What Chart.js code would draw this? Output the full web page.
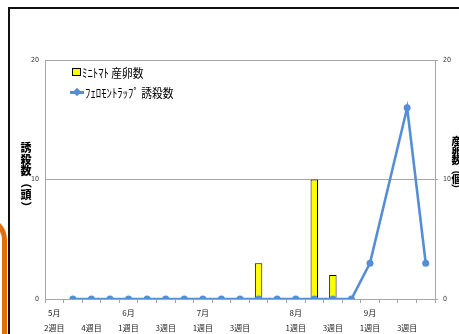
<!DOCTYPE html>
<html>
<head>
<meta charset="utf-8">
<script src="https://cdn.jsdelivr.net/npm/chart.js@4"></script>
<style>
  html, body { margin: 0; padding: 0; background: #fff; }
  #wrap { position: relative; width: 459px; height: 334px; overflow: hidden; }
  #chart { position: absolute; left: 0; top: 0; }
  .frame { position: absolute; left: 8px; top: 7px; width: 500px; height: 400px;
    border-left: 2px solid #111; border-top: 2px solid #111; pointer-events: none; }
  .blob { position: absolute; left: -60px; top: 216px; width: 67px; height: 200px; box-sizing: border-box;
    border: 5px solid #E46C0A; border-radius: 0 24px 0 0; }
  .ytitle { position: absolute; font-family: "Noto Sans CJK JP", sans-serif; font-weight: 900; color: #000;
    text-align: center; }
  .ytitle span { display: block; }
  .ytitle .rot { transform: rotate(90deg); }
  .legend { position: absolute; left: 70px; top: 62px; font-family: "Noto Sans CJK JP", sans-serif;
    font-size: 12.5px; color: #000; }
  .legend div { height: 20px; display: flex; align-items: center; white-space: nowrap; }
  .legend .tx { display: inline-block; transform: scaleX(0.86); transform-origin: left center; }
  .sw { display: inline-block; width: 7px; height: 6px; background: #FFFF00; border: 1px solid #000; margin: 0 1px 0 2px; }
  .ln { display: inline-block; position: relative; width: 14px; height: 3px; background: #558ED5; margin-right: 1px; }
  .ln::after { content: ""; position: absolute; left: 4px; top: -2px; width: 6px; height: 6px; background: #558ED5;
    transform: rotate(45deg); }
</style>
</head>
<body>
<div id="wrap">
  <canvas id="chart" width="459" height="334"></canvas>
  <div class="blob"></div>
  <div class="frame"></div>
  <div class="ytitle" style="left:20px; top:142px; width:12px; font-size:11px; line-height:11.7px;"><span>誘</span><span>殺</span><span>数</span><span class="rot">（</span><span>頭</span><span class="rot">）</span></div>
  <div class="ytitle" style="left:451px; top:136px; width:11px; font-size:10px; line-height:9.6px;"><span>産</span><span>卵</span><span>数</span><span class="rot">（</span><span>個</span><span class="rot">）</span></div>
  <div class="legend">
    <div><span class="sw"></span><span class="tx">ﾐﾆﾄﾏﾄ 産卵数</span></div>
    <div><span class="ln"></span><span class="tx">ﾌｪﾛﾓﾝﾄﾗｯﾌﾟ 誘殺数</span></div>
  </div>
</div>
<script>
// category labels (month line / week line), blanks where Excel skipped them
const months = ["5月", "", "", "", "6月", "", "", "", "7月", "", "", "", "", "8月", "", "", "", "9月", "", "", ""];
const weeks = ["2週目", "", "4週目", "", "1週目", "", "3週目", "", "1週目", "", "3週目", "", "", "1週目", "", "3週目", "", "1週目", "", "3週目", ""];

// ミニトマト 産卵数 (bars)
const eggCounts = [null, null, null, null, null, null, null, null, null, null, null, 3, null, null, 10, 2, null, null, null, null, null];
// フェロモントラップ 誘殺数 (line)
const trapCounts = [null, 0, 0, 0, 0, 0, 0, 0, 0, 0, 0, 0, 0, 0, 0, 0, 0, 3, null, 16, 3];

const yTicks = [0, 10, 20];

const labels = months.map((m, i) => [m, weeks[i]]);

const tickFont = { family: "'Liberation Sans Narrow', 'DejaVu Sans Condensed', sans-serif", size: 7 };
const gridColor = "#a6a6a6";

const ctx = document.getElementById("chart").getContext("2d");

new Chart(ctx, {
  data: {
    labels,
    datasets: [
      {
        type: "line",
        label: "ﾌｪﾛﾓﾝﾄﾗｯﾌﾟ 誘殺数",
        data: trapCounts,
        yAxisID: "y",
        borderColor: "#558ED5",
        backgroundColor: "#558ED5",
        borderWidth: 2.6,
        pointRadius: 3.5,
        pointBorderWidth: 0,
        spanGaps: true,
        tension: 0,
        order: 0
      },
      {
        type: "bar",
        label: "ﾐﾆﾄﾏﾄ 産卵数",
        data: eggCounts,
        yAxisID: "y2",
        backgroundColor: "#FFFF00",
        borderColor: "#000",
        borderWidth: 1,
        barPercentage: 0.4,
        categoryPercentage: 1,
        order: 1
      }
    ]
  },
  options: {
    responsive: false,
    animation: false,
    layout: { padding: { top: 60, left: 0, right: 0, bottom: 0 } },
    plugins: { legend: { display: false }, tooltip: { enabled: false } },
    scales: {
      x: {
        offset: true,
        grid: { offset: true, drawOnChartArea: false, tickLength: 4, color: gridColor },
        border: { color: gridColor },
        ticks: {
          autoSkip: false,
          maxRotation: 0,
          padding: 3,
          color: "#222",
          font: { family: "'Noto Sans CJK JP', sans-serif", size: 8, lineHeight: 1.8 }
        },
        afterFit: s => { s.height = 35; }
      },
      y: {
        position: "left",
        min: 0,
        max: 20,
        afterBuildTicks: s => { s.ticks = yTicks.map(v => ({ value: v })); },
        grid: { color: gridColor, drawTicks: false },
        border: { color: gridColor },
        ticks: { padding: 6, color: "#333", font: tickFont },
        afterFit: s => { s.width = 45; }
      },
      y2: {
        position: "right",
        min: 0,
        max: 20,
        afterBuildTicks: s => { s.ticks = yTicks.map(v => ({ value: v })); },
        grid: { drawOnChartArea: false, tickLength: 3, color: gridColor },
        border: { color: gridColor },
        ticks: { padding: 5, color: "#333", font: tickFont },
        afterFit: s => { s.width = 24; }
      }
    }
  }
});
</script>
</body>
</html>
